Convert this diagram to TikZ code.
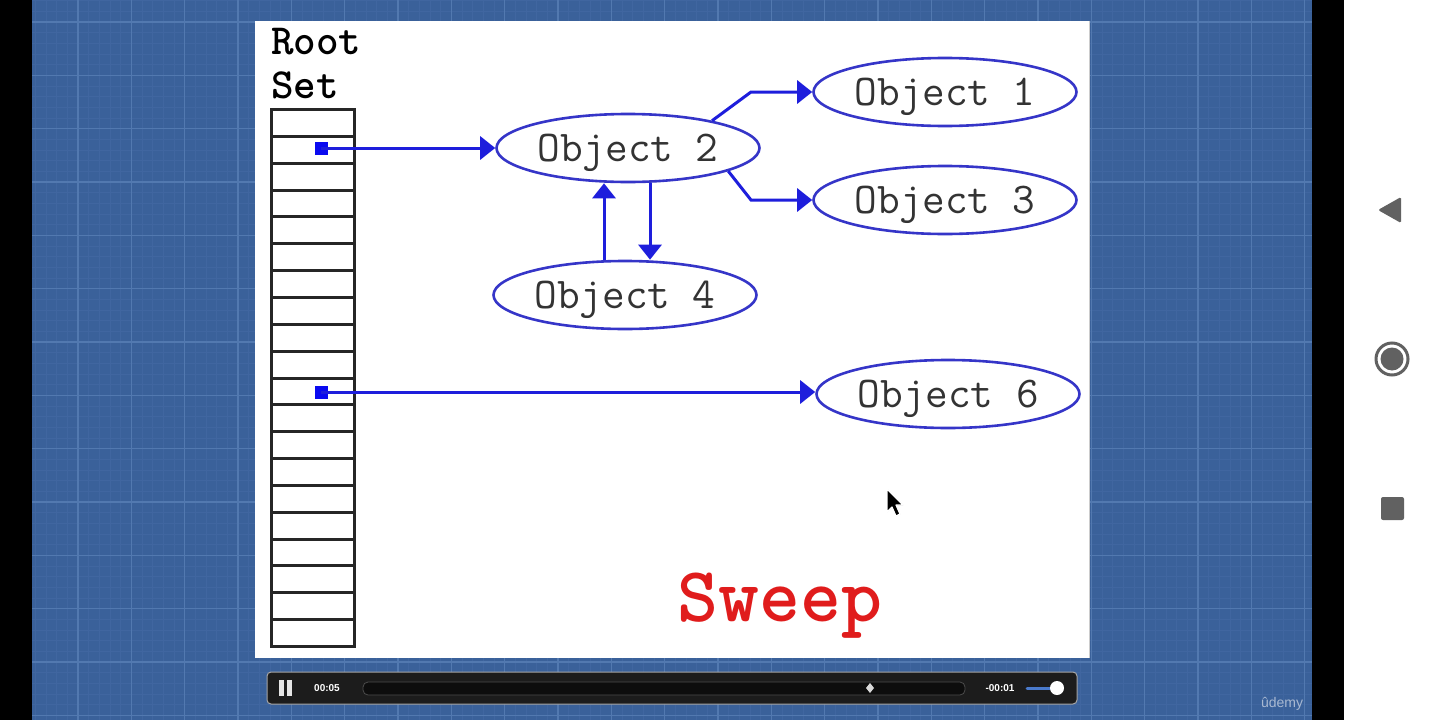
\documentclass[tikz,border=0pt]{standalone}
\usepackage{fontspec}
\setmainfont{Liberation Sans}
\setsansfont{Liberation Sans}
\usetikzlibrary{arrows.meta,shapes.geometric,calc}
\definecolor{bgblue}{HTML}{3A619A}
\definecolor{minorgrid}{HTML}{4066A0}
\definecolor{majorgrid}{HTML}{5279B0}
\definecolor{objblue}{HTML}{3535C8}
\definecolor{arrblue}{HTML}{1E1EDC}
\definecolor{sqblue}{HTML}{0A0AF0}
\definecolor{sweepred}{HTML}{E01C1C}
\definecolor{navgrey}{HTML}{616161}
\definecolor{barbg}{HTML}{1C1C1C}
\definecolor{volblue}{HTML}{4A7ACC}
\definecolor{logo}{HTML}{A9B9D2}
\tikzset{
  obj/.style={ellipse, draw=objblue, line width=2.6pt, minimum width=263pt, minimum height=68pt, inner sep=0pt,
    text height=26pt, text depth=0pt,
    font=\ttfamily\fontsize{44}{48}\selectfont, text=black!80},
  arr/.style={draw=arrblue, line width=3pt, -{Triangle[length=15pt,width=23pt]}},
  ptr/.style={fill=sqblue, draw=none, minimum size=13pt, inner sep=0pt, rectangle},
  cell/.style={draw=black!85, line width=3pt},
  minor/.style={minorgrid, line width=0.6pt},
  major/.style={majorgrid, line width=1.2pt},
  bartext/.style={text=white, font=\sffamily\bfseries\fontsize{10}{12}\selectfont, inner sep=0pt},
  roottext/.style={anchor=north west, inner sep=0pt, font=\ttfamily\bfseries\fontsize{43}{46}\selectfont},
}
\begin{document}
\begin{tikzpicture}[x=1pt,y=-1pt]
\useasboundingbox (0,0) rectangle (1440,720);
% background bands
\fill[black] (0,0) rectangle (1440,720);
\fill[bgblue] (32,0) rectangle (1312,720);
\fill[white] (1344,0) rectangle (1440,720);
% grid
\begin{scope}
\clip (32,0) rectangle (1312,720);
\foreach \k in {-5,...,116} \draw[minor] ({78+10.6667*\k},0) -- ++(0,720);
\foreach \k in {-3,...,66} \draw[minor] (32,{22+10.6667*\k}) -- ++(1280,0);
\foreach \k in {-1,...,23} \draw[major] ({78+53.3333*\k},0) -- ++(0,720);
\foreach \k in {-1,...,13} \draw[major] (32,{22+53.3333*\k}) -- ++(1280,0);
\end{scope}
% slide
\fill[white] (255,21) rectangle (1089,658);
\draw[black!20, line width=1pt] (1089,21) -- (1089,658);
% root set
\node[roottext] (root) at (271,28) {Root};
\node[roottext] (set) at (271,72) {Set};
\draw[cell] (271.5,109.5) rectangle (354.5,646.5);
\foreach \i in {1,...,19} \draw[cell] (271.5,{109.5+round(26.85*\i)}) -- (354.5,{109.5+round(26.85*\i)});
\node[ptr] (s1) at (321,148) {};
\node[ptr] (s2) at (321,392) {};
% objects
\node[obj] (o2) at (628,148) {Object 2};
\node[obj] (o1) at (945,92) {Object 1};
\node[obj] (o3) at (945,200) {Object 3};
\node[obj] (o4) at (625,295) {Object 4};
\node[obj] (o6) at (948,394) {Object 6};
% connectors
\draw[arr] (s1.center) -- (o2.west);
\draw[arr] (s2.center) -- (s2.center -| o6.west);
\coordinate (k1) at (751,92);
\coordinate (k3) at (751,200);
\draw[arr] (o2.18) -- (k1) -- (o1.west);
\draw[arr] (o2.-13) -- (k3) -- (o3.west);
\draw[arr] ([xshift=-21pt]o4.north) -- ([xshift=-24pt]o2.south);
\draw[arr] ([xshift=22pt]o2.south) -- ([xshift=25pt]o4.north);
% sweep
\node[font=\ttfamily\bfseries\fontsize{78}{82}\selectfont, text=sweepred, inner sep=0pt] (sweep) at (780,606) {Sweep};
% cursor
\draw[white, line width=1.2pt, fill=black, line join=round] (887,489) -- (887,512) -- (892,507) -- (896,516) -- (900,514) -- (896,505) -- (903,505) -- cycle;
% player bar
\draw[fill=barbg, draw=gray!70, line width=1pt, rounded corners=4pt] (267,672) rectangle (1077,704);
\fill[white!90!black] (279,680) rectangle (284,696);
\fill[white!90!black] (287,680) rectangle (292,696);
\node[bartext] (t1) at (327,688) {00:05};
\draw[fill=black!95, draw=black!70, line width=0.8pt, rounded corners=5pt] (363,682) rectangle (965,695);
\fill[white!85!black] (870,683) -- (874,688) -- (870,693) -- (866,688) -- cycle;
\node[bartext] (t2) at (1000,688) {-00:01};
\draw[volblue, line width=3pt, line cap=round] (1027,688) -- (1054,688);
\fill[white] (1057,688) circle (7);
% udemy
\node[text=logo, font=\sffamily\fontsize{14}{16}\selectfont, inner sep=0pt] (logo) at (1282,704) {ûdemy};
% nav icons
\fill[navgrey, rounded corners=1.5pt] (1378,210) -- (1401,197) -- (1401,223) -- cycle;
\draw[navgrey, line width=3pt] (1392,359) circle (16);
\fill[navgrey] (1392,359) circle (11.5);
\fill[navgrey, rounded corners=2pt] (1381,497) rectangle (1404,520);
\end{tikzpicture}
\end{document}
